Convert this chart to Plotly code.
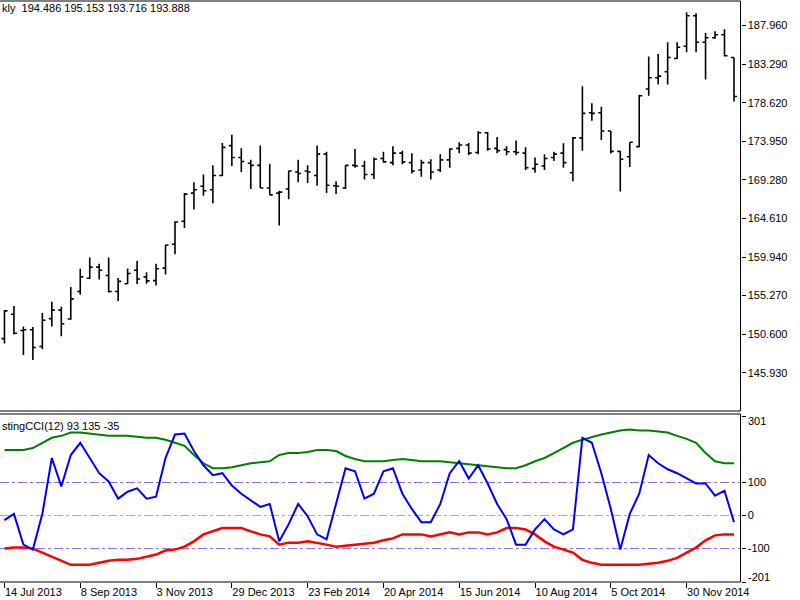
import plotly.graph_objects as go
import pandas as pd

# ---------------- data ----------------
dates = pd.date_range("2013-07-14", periods=78, freq="7D")

opens = [150.06, 153.02, 151.04, 151.13, 149.11, 152.49, 153.51, 152.44, 155.77, 157.37,
         158.72, 157.70, 155.77, 156.71, 158.35, 157.54, 157.08, 158.60, 161.48, 164.27,
         167.68, 168.51, 168.09, 169.81, 173.43, 171.99, 171.29, 171.04, 168.30, 167.68,
         168.17, 170.23, 170.35, 169.81, 172.40, 168.58, 168.30, 171.04, 170.97, 169.93,
         171.87, 171.37, 172.52, 171.37, 170.48, 171.37, 170.48, 171.71, 173.10, 173.51,
         172.60, 174.99, 173.10, 172.94, 172.69, 172.52, 170.64, 170.97, 171.99, 172.52,
         170.14, 174.37, 177.41, 177.41, 175.20, 172.73, 172.08, 173.31, 180.28, 181.64,
         182.38, 183.98, 185.46, 189.16, 185.95, 186.49, 186.86, 184.10]
highs = [153.51, 154.00, 151.54, 151.46, 153.18, 154.53, 153.92, 156.31, 158.52, 159.88,
         159.14, 159.88, 157.41, 158.56, 159.46, 158.11, 159.14, 161.40, 164.27, 167.68,
         169.00, 169.94, 171.04, 173.75, 174.74, 173.10, 171.71, 173.43, 171.25, 167.96,
         170.43, 171.71, 171.04, 173.43, 172.69, 169.12, 171.04, 173.02, 171.59, 171.99,
         172.69, 173.35, 172.82, 172.52, 171.71, 171.78, 172.40, 173.10, 173.84, 173.75,
         175.16, 175.07, 174.46, 173.35, 174.05, 173.22, 171.99, 172.40, 172.69, 173.72,
         174.46, 180.62, 178.56, 178.15, 175.20, 172.82, 173.84, 179.59, 184.23, 184.52,
         185.95, 185.95, 189.57, 189.45, 187.06, 187.27, 187.52, 184.10]
lows = [149.48, 150.55, 148.09, 147.47, 148.79, 151.54, 150.34, 152.36, 155.36, 157.29,
        157.21, 155.64, 154.62, 156.71, 156.68, 156.71, 156.50, 157.82, 160.29, 163.45,
        165.71, 167.35, 166.45, 169.74, 170.97, 170.23, 168.17, 168.30, 167.47, 163.77,
        166.94, 169.00, 168.91, 168.58, 167.68, 167.56, 168.17, 170.76, 169.32, 169.40,
        171.37, 171.04, 171.17, 170.06, 169.65, 169.32, 170.23, 170.76, 172.52, 172.27,
        172.40, 172.82, 172.52, 172.27, 172.27, 170.48, 170.14, 170.48, 171.58, 170.76,
        169.12, 172.82, 176.43, 174.12, 172.49, 167.89, 170.85, 173.22, 179.47, 180.83,
        180.83, 183.91, 184.72, 184.72, 181.44, 186.37, 184.23, 178.77]
closes = [153.42, 150.71, 151.13, 148.99, 152.28, 153.51, 151.87, 154.87, 157.54, 158.72,
          158.35, 155.77, 157.00, 157.95, 157.29, 157.05, 158.52, 161.40, 164.19, 167.56,
          168.09, 167.96, 169.81, 173.22, 171.99, 171.50, 171.04, 168.30, 167.47, 167.80,
          170.35, 170.06, 170.23, 172.40, 168.63, 168.51, 171.04, 170.97, 169.93, 171.78,
          171.46, 172.52, 171.46, 170.35, 171.37, 170.23, 171.71, 173.02, 173.51, 172.52,
          174.99, 173.02, 172.82, 172.69, 172.60, 170.76, 171.17, 171.87, 172.40, 171.37,
          174.37, 177.33, 177.33, 175.20, 172.73, 171.78, 173.84, 179.47, 181.64, 181.85,
          184.10, 185.34, 189.16, 185.95, 186.49, 186.86, 184.31, 179.38]

cci = [-14, 5, -88, -103, 5, 174, 88, 183, 220, 174,
       128, 103, 51, 72, 82, 51, 57, 174, 245, 248,
       195, 152, 122, 128, 91, 66, 45, 26, 35, -78,
       -26, 35, -2, -57, -72, 35, 143, 134, 51, 66,
       134, 143, 66, 20, -20, -20, 35, 128, 165, 112,
       152, 97, 35, -11, -88, -88, -42, -11, -42, -57,
       -42, 235, 220, 128, 20, -103, 5, 66, 183, 158,
       140, 128, 112, 97, 97, 60, 75, -20]
upper = [198, 198, 198, 204, 220, 235, 241, 251, 251, 248,
         245, 241, 241, 241, 238, 235, 235, 229, 220, 211,
         183, 158, 143, 143, 146, 152, 158, 161, 164, 183,
         189, 189, 192, 198, 198, 195, 180, 171, 164, 164,
         164, 168, 171, 168, 164, 164, 164, 161, 158, 155,
         152, 149, 146, 143, 143, 152, 164, 174, 189, 204,
         220, 229, 238, 245, 251, 257, 260, 257, 257, 254,
         251, 241, 232, 220, 189, 164, 158, 158]
lower = [-100, -97, -97, -100, -112, -125, -137, -149, -149, -149,
         -143, -137, -134, -134, -131, -125, -118, -106, -103, -94,
         -78, -57, -48, -38, -38, -38, -48, -57, -63, -88,
         -82, -82, -78, -82, -88, -94, -91, -88, -85, -82,
         -75, -69, -57, -57, -57, -63, -57, -51, -57, -51,
         -51, -57, -51, -38, -38, -42, -57, -78, -94, -103,
         -112, -134, -143, -149, -149, -149, -149, -149, -146, -143,
         -137, -128, -112, -97, -75, -60, -57, -57]

price_ticks = [145.930, 150.600, 155.270, 159.940, 164.610,
               169.280, 173.950, 178.620, 183.290, 187.960]
cci_ticks = [301, 100, 0, -100, -201]
cci_levels = [100, 0, -100]
date_ticks = ["2013-07-14", "2013-09-08", "2013-11-03", "2013-12-29", "2014-02-23",
              "2014-04-20", "2014-06-15", "2014-08-10", "2014-10-05", "2014-11-30"]
date_labels = ["14 Jul 2013", "8 Sep 2013", "3 Nov 2013", "29 Dec 2013", "23 Feb 2014",
               "20 Apr 2014", "15 Jun 2014", "10 Aug 2014", "5 Oct 2014", "30 Nov 2014"]

header_text = "kly  194.486 195.153 193.716 193.888"
ind_text = "stingCCI(12) 93 135 -35"

# ---------------- layout geometry (pixels) ----------------
W, H = 800, 600
PLOT_R = 748
MAIN_T, MAIN_B = 1, 411
SEP2 = 414
IND_T, IND_B = 416, 582
WEEK_PX = 9.57
FIRST_BAR_PX = 4.5
PRICE_MAX, PRICE_MIN = 190.94, 141.30


def py(p):
    return 1 - p / H


x0 = dates[0] - pd.Timedelta(days=7 * FIRST_BAR_PX / WEEK_PX)
x1 = dates[0] + pd.Timedelta(days=7 * (PLOT_R - FIRST_BAR_PX) / WEEK_PX)

FONT = "Liberation Sans"
axis_font = dict(family=FONT, size=11, color="black")

fig = go.Figure()
fig.add_trace(go.Ohlc(
    x=dates, open=opens, high=highs, low=lows, close=closes,
    increasing=dict(line=dict(color="black", width=1.6)),
    decreasing=dict(line=dict(color="black", width=1.6)),
    tickwidth=0.32, xaxis="x", yaxis="y", hoverinfo="skip", showlegend=False))

fig.add_trace(go.Scatter(x=dates, y=upper, mode="lines", line=dict(color="#008000", width=2),
                         xaxis="x2", yaxis="y2", showlegend=False, hoverinfo="skip"))
fig.add_trace(go.Scatter(x=dates, y=lower, mode="lines", line=dict(color="#ff0000", width=2.5),
                         xaxis="x2", yaxis="y2", showlegend=False, hoverinfo="skip"))
fig.add_trace(go.Scatter(x=dates, y=cci, mode="lines", line=dict(color="#0000ff", width=2),
                         xaxis="x2", yaxis="y2", showlegend=False, hoverinfo="skip"))

shapes = []
for lv in cci_levels:
    shapes.append(dict(type="line", xref="x2 domain", yref="y2", x0=0, x1=1, y0=lv, y1=lv,
                       line=dict(color="#8a6bd6" if lv != 0 else "#a9a9c8", width=1, dash="dashdot"),
                       layer="below"))
frame = dict(color="black", width=1)
xr = PLOT_R / W
shapes += [
    dict(type="line", xref="paper", yref="paper", x0=0, x1=xr, y0=py(MAIN_T), y1=py(MAIN_T), line=frame),
    dict(type="line", xref="paper", yref="paper", x0=0, x1=xr, y0=py(MAIN_B), y1=py(MAIN_B), line=frame),
    dict(type="line", xref="paper", yref="paper", x0=0, x1=xr, y0=py(SEP2), y1=py(SEP2), line=frame),
    dict(type="line", xref="paper", yref="paper", x0=0, x1=xr, y0=py(IND_B), y1=py(IND_B), line=frame),
    dict(type="line", xref="paper", yref="paper", x0=xr, x1=xr, y0=py(MAIN_T), y1=py(MAIN_B), line=frame),
    dict(type="line", xref="paper", yref="paper", x0=xr, x1=xr, y0=py(SEP2), y1=py(IND_B), line=frame),
]

# the end labels of the indicator scale sit just inside the pane edges (as in the terminal)
cci_ticktext = ["" if v in (cci_ticks[0], cci_ticks[-1]) else str(v) for v in cci_ticks]
edge_labels = [
    dict(text=str(cci_ticks[0]), xref="paper", yref="paper", x=(PLOT_R + 6) / W, y=py(IND_T + 5),
         xanchor="left", yanchor="middle", showarrow=False, font=axis_font),
    dict(text=str(cci_ticks[-1]), xref="paper", yref="paper", x=(PLOT_R + 6) / W, y=py(IND_B - 5),
         xanchor="left", yanchor="middle", showarrow=False, font=axis_font),
]

fig.update_layout(
    width=W, height=H, margin=dict(l=0, r=0, t=0, b=0),
    paper_bgcolor="white", plot_bgcolor="white",
    font=axis_font,
    showlegend=False,
    shapes=shapes,
    xaxis=dict(domain=[0, xr], range=[x0, x1], anchor="y", type="date",
               showticklabels=False, ticks="", showgrid=False, zeroline=False,
               rangeslider=dict(visible=False), showline=False),
    yaxis=dict(domain=[py(MAIN_B), py(MAIN_T)], range=[PRICE_MIN, PRICE_MAX], side="right",
               anchor="x", tickvals=price_ticks, ticktext=[f"{v:.3f}" for v in price_ticks],
               ticks="outside", ticklen=4, tickcolor="black", showgrid=False, zeroline=False,
               tickfont=axis_font, showline=False),
    xaxis2=dict(domain=[0, xr], range=[x0, x1], anchor="y2", type="date", matches="x",
                tickvals=list(pd.to_datetime(date_ticks)), ticktext=date_labels,
                ticks="outside", ticklen=5, tickcolor="black", ticklabelposition="outside right",
                showgrid=False, zeroline=False, tickfont=axis_font, showline=False),
    yaxis2=dict(domain=[py(IND_B), py(IND_T)], range=[-201, 301], side="right", anchor="x2",
                tickvals=cci_ticks, ticktext=cci_ticktext,
                ticks="outside", ticklen=4, tickcolor="black", showgrid=False, zeroline=False,
                tickfont=axis_font, showline=False),
    annotations=[
        dict(text=header_text, xref="paper", yref="paper", x=0, y=py(8), xanchor="left",
             yanchor="middle", showarrow=False, font=axis_font),
        dict(text=ind_text, xref="paper", yref="paper", x=0, y=py(426), xanchor="left",
             yanchor="middle", showarrow=False, font=axis_font),
    ] + edge_labels,
)

fig.write_html("out.html")
